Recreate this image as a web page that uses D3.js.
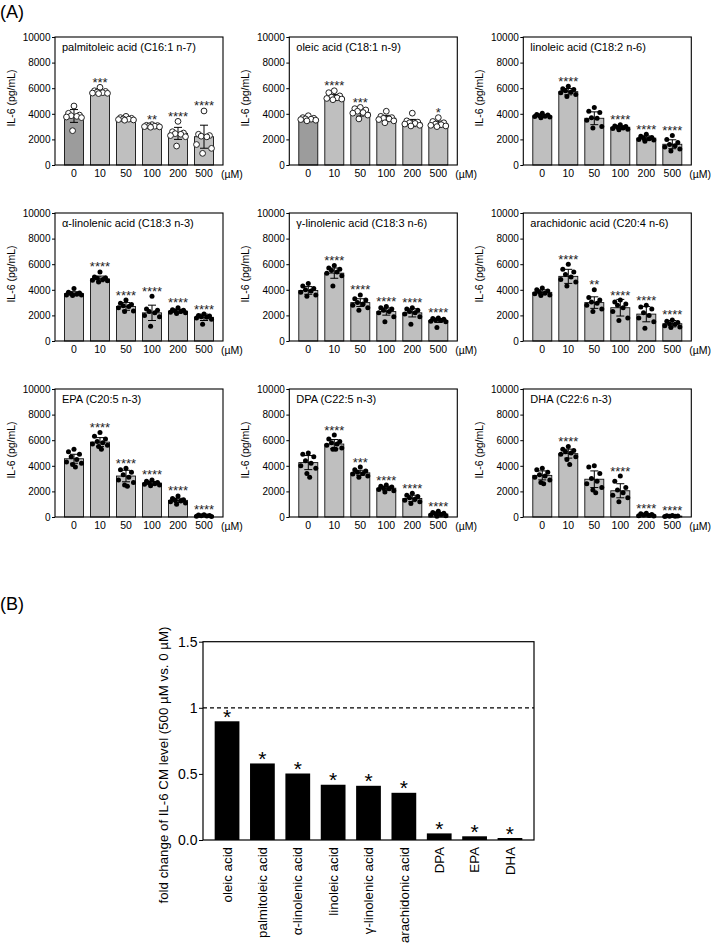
<!DOCTYPE html>
<html><head><meta charset="utf-8">
<script src="https://cdn.jsdelivr.net/npm/d3@7"></script>
<style>body{margin:0;background:#fff;} svg{display:block;font-family:Arial,"Liberation Sans",Helvetica,sans-serif;}</style>
</head><body><svg id="chart" width="712" height="945"></svg>
<script>
// ---------- Panel A data ----------
const doses = ["0", "10", "50", "100", "200", "500"];
const yTicksA = [0, 2000, 4000, 6000, 8000, 10000];

const palmitoleicMean = [3830, 5680, 3600, 3050, 2470, 2210];
const palmitoleicSD = [500, 150, 80, 80, 470, 900];
const palmitoleicPts = [
  [4610, 4040, 3900, 3850, 3800, 3750, 3700, 2680],
  [6070, 5800, 5750, 5700, 5650, 5620, 5600, 5580],
  [3800, 3700, 3650, 3600, 3580, 3550, 3520, 3500],
  [3150, 3100, 3080, 3050, 3030, 3000, 2980, 2950],
  [3410, 2600, 2500, 2450, 2400, 2300, 2210, 1480],
  [4220, 2400, 2300, 2250, 2200, 1600, 1300, 910]];
const palmitoleicSig = ["", "***", "", "**", "****", "****"];

const oleicMean = [3600, 5300, 4100, 3650, 3280, 3200];
const oleicSD = [120, 200, 280, 230, 280, 230];
const oleicPts = [
  [3850, 3700, 3650, 3600, 3580, 3550, 3500, 3450],
  [5800, 5650, 5400, 5300, 5250, 5200, 5150, 5100],
  [4500, 4400, 4300, 4200, 4100, 4050, 3900, 3600],
  [4200, 3800, 3700, 3650, 3600, 3550, 3450, 3300],
  [4050, 3450, 3350, 3300, 3250, 3200, 3100, 3050],
  [3700, 3400, 3300, 3200, 3150, 3100, 3050, 3000]];
const oleicSig = ["", "****", "***", "", "", "*"];

const linoleicMean = [3830, 5730, 3650, 2950, 2100, 1620];
const linoleicSD = [120, 250, 500, 120, 170, 350];
const linoleicPts = [
  [4050, 3950, 3900, 3850, 3800, 3780, 3750, 3700],
  [6150, 5950, 5900, 5800, 5700, 5650, 5500, 5350],
  [4500, 4200, 4100, 3700, 3650, 3500, 3000, 2900],
  [3150, 3050, 3000, 2950, 2900, 2850, 2800, 2750],
  [2400, 2250, 2150, 2100, 2050, 2000, 1950, 1850],
  [2300, 2000, 1750, 1600, 1500, 1400, 1250, 1100]];
const linoleicSig = ["", "****", "", "****", "****", "****"];

const alphaLinMean = [3700, 4850, 2700, 2200, 2330, 1850];
const alphaLinSD = [150, 220, 300, 600, 150, 250];
const alphaLinPts = [
  [4100, 3800, 3750, 3700, 3650, 3600, 3600, 3550],
  [5400, 5000, 4950, 4900, 4800, 4750, 4700, 4600],
  [3200, 2950, 2850, 2750, 2700, 2600, 2350, 2300],
  [3500, 2500, 2400, 2300, 2200, 2000, 1900, 1150],
  [2600, 2450, 2400, 2350, 2300, 2250, 2200, 2150],
  [2100, 2000, 1950, 1900, 1850, 1800, 1700, 1300]];
const alphaLinSig = ["", "****", "****", "****", "****", "****"];

const gammaLinMean = [3950, 5300, 3000, 2300, 2200, 1600];
const gammaLinSD = [300, 400, 300, 280, 320, 150];
const gammaLinPts = [
  [4500, 4300, 4100, 4000, 3900, 3800, 3600, 3500],
  [5900, 5700, 5600, 5500, 5400, 5300, 5100, 4300],
  [3600, 3300, 3200, 3000, 2900, 2800, 2600, 2400],
  [2700, 2600, 2500, 2400, 2300, 2200, 1900, 1500],
  [2600, 2500, 2400, 2300, 2200, 2100, 1900, 1300],
  [1800, 1750, 1700, 1650, 1600, 1550, 1500, 1050]];
const gammaLinSig = ["", "****", "****", "****", "****", "****"];

const arachidonicMean = [3800, 5050, 3000, 2600, 2100, 1350];
const arachidonicSD = [200, 550, 450, 650, 600, 250];
const arachidonicPts = [
  [4150, 4000, 3900, 3800, 3750, 3700, 3600, 3550],
  [6000, 5600, 5400, 5200, 5000, 4800, 4600, 4300],
  [4000, 3400, 3200, 3050, 2950, 2800, 2500, 2300],
  [3200, 3050, 2900, 2800, 2600, 2300, 1800, 1600],
  [2800, 2650, 2500, 2200, 2000, 1800, 1500, 1000],
  [1650, 1550, 1450, 1350, 1300, 1200, 1100, 1050]];
const arachidonicSig = ["", "****", "**", "****", "****", "****"];

const epaMean = [4550, 5850, 3200, 2650, 1300, 100];
const epaSD = [350, 350, 450, 120, 160, 50];
const epaPts = [
  [5300, 5100, 4900, 4700, 4500, 4300, 4200, 4100, 3900],
  [6600, 6300, 6100, 5900, 5800, 5700, 5600, 5500, 5300],
  [3800, 3700, 3500, 3300, 3100, 2900, 2700, 2500, 2400],
  [2900, 2800, 2700, 2650, 2600, 2550, 2500, 2450],
  [1650, 1450, 1350, 1300, 1250, 1200, 1100, 1000],
  [180, 150, 120, 100, 80, 60, 40]];
const epaSig = ["", "****", "****", "****", "****", "****"];

const dpaMean = [4250, 5700, 3450, 2250, 1450, 230];
const dpaSD = [550, 350, 200, 150, 250, 110];
const dpaPts = [
  [5000, 4900, 4700, 4400, 4200, 4000, 3800, 3400, 3100],
  [6400, 6100, 5900, 5800, 5700, 5600, 5400, 5300, 5300],
  [3900, 3700, 3600, 3500, 3400, 3350, 3200, 3100],
  [2500, 2400, 2350, 2250, 2200, 2150, 2050, 1950],
  [1850, 1700, 1600, 1500, 1400, 1300, 1200, 1050],
  [450, 350, 300, 250, 200, 150, 100, 50]];
const dpaSig = ["", "****", "***", "****", "****", "****"];

const dhaMean = [3250, 4950, 2950, 2050, 150, 70];
const dhaSD = [350, 350, 650, 550, 80, 40];
const dhaPts = [
  [3800, 3700, 3500, 3300, 3200, 3100, 2900, 2700, 2600],
  [5500, 5300, 5200, 5100, 5000, 4900, 4700, 4500, 4100],
  [4000, 3900, 3400, 3000, 2800, 2600, 2300, 2100, 1900],
  [3200, 2800, 2300, 2100, 1900, 1700, 1500, 1200],
  [300, 250, 200, 150, 120, 100, 80],
  [120, 100, 80, 60, 50, 40]];
const dhaSig = ["", "****", "", "****", "****", "****"];

const panelTitles = ["palmitoleic acid (C16:1 n-7)", "oleic acid (C18:1 n-9)", "linoleic acid (C18:2 n-6)",
  "α-linolenic acid (C18:3 n-3)", "γ-linolenic acid (C18:3 n-6)", "arachidonic acid (C20:4 n-6)",
  "EPA (C20:5 n-3)", "DPA (C22:5 n-3)", "DHA (C22:6 n-3)"];

// ---------- Panel B data ----------
const fattyAcids = ["oleic acid", "palmitoleic acid", "α-linolenic acid", "linoleic acid", "γ-linolenic acid",
  "arachidonic acid", "DPA", "EPA", "DHA"];
const foldChange = [0.898, 0.579, 0.503, 0.418, 0.41, 0.357, 0.05, 0.028, 0.015];
const foldSig = ["*", "*", "*", "*", "*", "*", "*", "*", "*"];
const yTicksB = [0, 0.5, 1, 1.5];

// ---------- build ----------
const panels = [
  {title: panelTitles[0], mean: palmitoleicMean, sd: palmitoleicSD, pts: palmitoleicPts, sig: palmitoleicSig, open: true},
  {title: panelTitles[1], mean: oleicMean, sd: oleicSD, pts: oleicPts, sig: oleicSig, open: true},
  {title: panelTitles[2], mean: linoleicMean, sd: linoleicSD, pts: linoleicPts, sig: linoleicSig, open: false},
  {title: panelTitles[3], mean: alphaLinMean, sd: alphaLinSD, pts: alphaLinPts, sig: alphaLinSig, open: false},
  {title: panelTitles[4], mean: gammaLinMean, sd: gammaLinSD, pts: gammaLinPts, sig: gammaLinSig, open: false},
  {title: panelTitles[5], mean: arachidonicMean, sd: arachidonicSD, pts: arachidonicPts, sig: arachidonicSig, open: false},
  {title: panelTitles[6], mean: epaMean, sd: epaSD, pts: epaPts, sig: epaSig, open: false},
  {title: panelTitles[7], mean: dpaMean, sd: dpaSD, pts: dpaPts, sig: dpaSig, open: false},
  {title: panelTitles[8], mean: dhaMean, sd: dhaSD, pts: dhaPts, sig: dhaSig, open: false}
];

const FONT = 'Arial,"Liberation Sans",Helvetica,sans-serif';
const svg = d3.select("#chart");
svg.append("rect").attr("width", 712).attr("height", 945).attr("fill", "#fff");
svg.append("text").attr("x", 0).attr("y", 18).attr("font-size", 18).text("(A)");
svg.append("text").attr("x", 0).attr("y", 610).attr("font-size", 18).text("(B)");

const colX = [55, 289.3, 523.3];
const rowY = [37, 213, 389];
const pw = 168, ph = 128;
const jitter = [0, -5.5, 5.5, -2.8, 2.8, -7.5, 7.5, -1.4, 1.4];

panels.forEach((p, i) => {
  const x0 = colX[i % 3], y0 = rowY[Math.floor(i / 3)];
  const g = svg.append("g").attr("transform", `translate(${x0},${y0})`);
  const x = d3.scaleBand().domain(doses).range([0, pw]).paddingInner(0.27).paddingOuter(0.365);
  const y = d3.scaleLinear().domain([0, 10000]).range([ph, 0]);
  const bw = x.bandwidth();

  g.selectAll("rect.bar").data(p.mean).join("rect").attr("class", "bar")
    .attr("x", (d, j) => x(doses[j])).attr("y", d => y(d))
    .attr("width", bw).attr("height", d => ph - y(d))
    .attr("fill", (d, j) => (j === 0 && p.open) ? "#9c9c9c" : "#bfbfbf")
    .attr("stroke", "#111").attr("stroke-width", 0.9);

  // error bars
  p.mean.forEach((m, j) => {
    const cx = x(doses[j]) + bw / 2;
    const hi = y(m + p.sd[j]), lo = y(Math.max(0, m - p.sd[j]));
    g.append("line").attr("x1", cx).attr("x2", cx).attr("y1", hi).attr("y2", lo).attr("stroke", "#000").attr("stroke-width", 1);
    g.append("line").attr("x1", cx - 4).attr("x2", cx + 4).attr("y1", hi).attr("y2", hi).attr("stroke", "#000").attr("stroke-width", 1);
    g.append("line").attr("x1", cx - 4).attr("x2", cx + 4).attr("y1", lo).attr("y2", lo).attr("stroke", "#000").attr("stroke-width", 1);
  });

  // points
  p.pts.forEach((arr, j) => {
    const cx = x(doses[j]) + bw / 2;
    g.selectAll(null).data(arr).join("circle")
      .attr("cx", (d, k) => cx + jitter[k % jitter.length])
      .attr("cy", d => y(d))
      .attr("r", p.open ? 2.9 : 2.5)
      .attr("fill", p.open ? "#fff" : "#000")
      .attr("stroke", p.open ? "#222" : "none")
      .attr("stroke-width", 1);
  });

  // significance
  p.sig.forEach((s, j) => {
    if (!s) return;
    const cx = x(doses[j]) + bw / 2;
    const top = Math.min(y(d3.max(p.pts[j])) - 3, y(p.mean[j] + p.sd[j]));
    g.append("text").attr("x", cx).attr("y", top + 2.5).attr("text-anchor", "middle")
      .attr("font-size", 13).attr("fill", "#222").text(s);
  });

  // frame
  g.append("rect").attr("width", pw).attr("height", ph).attr("fill", "none").attr("stroke", "#000").attr("stroke-width", 1.1);

  // y axis
  const ya = g.append("g").call(d3.axisLeft(y).tickValues(yTicksA).tickSize(3).tickPadding(1.5).tickFormat(d3.format("d")));
  ya.attr("font-family", FONT).attr("font-size", 10);
  ya.select(".domain").remove();
  ya.selectAll("text").attr("fill", "#000");
  ya.selectAll("line").attr("stroke", "#000");

  // x axis labels
  const xa = g.append("g").attr("transform", `translate(0,${ph})`).call(d3.axisBottom(x).tickSize(0).tickPadding(5));
  xa.attr("font-family", FONT).attr("font-size", 10.5);
  xa.select(".domain").remove();
  xa.selectAll("text").attr("fill", "#000");
  g.append("text").attr("x", pw - 2).attr("y", ph + 12.5).attr("font-size", 10.5).text("(µM)");

  // title
  g.append("text").attr("x", 7).attr("y", 13.5).attr("font-size", 11).text(p.title);

  // y label
  g.append("text").attr("transform", `translate(-40,${ph / 2 - 3}) rotate(-90)`)
    .attr("text-anchor", "middle").attr("font-size", 10.5).text("IL-6 (pg/mL)");
});

// ---------- Panel B ----------
const bL = 203, bR = 534, bT = 641.7, bB = 840;
const xb = d3.scaleBand().domain(fattyAcids).range([bL, bR]).paddingInner(0.3).paddingOuter(0.33);
const yb = d3.scaleLinear().domain([0, 1.5]).range([bB, bT]);
const gb = svg.append("g");

gb.selectAll("rect.fb").data(foldChange).join("rect").attr("class", "fb")
  .attr("x", (d, i) => xb(fattyAcids[i])).attr("y", d => yb(d))
  .attr("width", xb.bandwidth()).attr("height", d => bB - yb(d)).attr("fill", "#000");

gb.selectAll("text.fs").data(foldSig).join("text").attr("class", "fs")
  .attr("x", (d, i) => xb(fattyAcids[i]) + xb.bandwidth() / 2)
  .attr("y", (d, i) => yb(foldChange[i]) + 2.5)
  .attr("text-anchor", "middle").attr("font-size", 21).text(d => d);

gb.append("line").attr("x1", bL).attr("x2", bR).attr("y1", yb(1)).attr("y2", yb(1))
  .attr("stroke", "#000").attr("stroke-width", 1.2).attr("stroke-dasharray", "4,3");

gb.append("rect").attr("x", bL).attr("y", bT).attr("width", bR - bL).attr("height", bB - bT)
  .attr("fill", "none").attr("stroke", "#000").attr("stroke-width", 1.2);

const yaB = gb.append("g").attr("transform", `translate(${bL},0)`)
  .call(d3.axisLeft(yb).tickValues(yTicksB).tickSize(4).tickPadding(1.5).tickFormat(d => d === 0 ? "0.0" : String(d)));
yaB.attr("font-family", FONT).attr("font-size", 14);
yaB.select(".domain").remove();
yaB.selectAll("text").attr("fill", "#000");
yaB.selectAll("line").attr("stroke", "#000");

gb.selectAll("text.fl").data(fattyAcids).join("text").attr("class", "fl")
  .attr("transform", d => `translate(${xb(d) + xb.bandwidth() / 2},847) rotate(-90)`)
  .attr("text-anchor", "end").attr("dy", "0.35em").attr("font-size", 13.3).text(d => d);

gb.append("text").attr("transform", "translate(168,765) rotate(-90)")
  .attr("text-anchor", "middle").attr("font-size", 13.3)
  .text("fold change of IL-6 CM level (500 µM vs. 0 µM)");
</script>
</body></html>
